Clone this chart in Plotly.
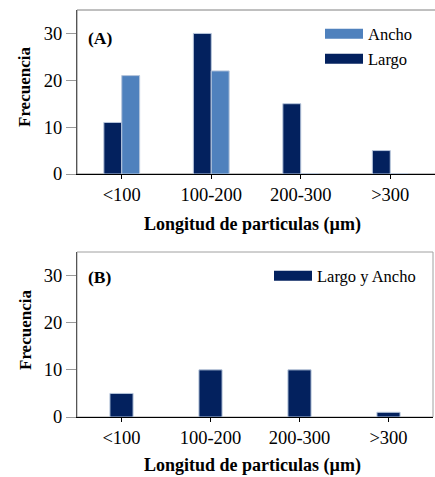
import plotly.graph_objects as go

categories = ["<100", "100-200", "200-300", ">300"]
largo_a = [11, 30, 15, 5]
ancho_a = [21, 22, 0, 0]
largo_ancho_b = [5, 10, 10, 1]
y_ticks = [0, 10, 20, 30]

NAVY = "#03215e"
BLUE = "#4f81bd"
EDGE = "#b7c6dc"
FONT = "Liberation Serif"

W, H = 435, 477
L, R, T, B = 77, 0, 10, 60
PH = H - T - B


def py(pix):
    return (H - B - pix) / PH


def px(pix):
    return (pix - L) / (W - L - R)


fig = go.Figure()
fig.add_trace(go.Bar(x=categories, y=largo_a, name="Largo", marker=dict(color=NAVY, line=dict(color=EDGE, width=1)),
                     xaxis="x", yaxis="y", showlegend=False))
fig.add_trace(go.Bar(x=categories, y=ancho_a, name="Ancho", marker=dict(color=BLUE, line=dict(color=EDGE, width=1)),
                     xaxis="x", yaxis="y", showlegend=False))
fig.add_trace(go.Bar(x=categories, y=largo_ancho_b, name="Largo y Ancho", width=0.26,
                     marker=dict(color=NAVY, line=dict(color=EDGE, width=1)),
                     xaxis="x2", yaxis="y2", showlegend=False))

# legend proxies
fig.add_trace(go.Scatter(x=[None], y=[None], mode="lines", name="Ancho", line=dict(color=BLUE, width=13),
                         xaxis="x", yaxis="y", legend="legend"))
fig.add_trace(go.Scatter(x=[None], y=[None], mode="lines", name="Largo", line=dict(color=NAVY, width=13),
                         xaxis="x", yaxis="y", legend="legend2"))
fig.add_trace(go.Scatter(x=[None], y=[None], mode="lines", name="Largo y Ancho", line=dict(color=NAVY, width=13),
                         xaxis="x2", yaxis="y2", legend="legend3"))

TICKSIZE = 18.5
xcommon = dict(type="category", range=[-0.5, 3.5], showline=True, linecolor="#000000", linewidth=1.3,
               ticks="outside", ticklen=4, tickcolor="#000000", tickfont=dict(family=FONT, size=TICKSIZE, color="#000"),
               showgrid=False, zeroline=False, fixedrange=True)
ycommon = dict(range=[0, 35], tickvals=y_ticks, showline=True, linecolor="#555555", linewidth=1,
               ticks="outside", ticklen=10, tickcolor="#9a9a9a", tickfont=dict(family=FONT, size=TICKSIZE, color="#000"),
               showgrid=False, zeroline=False, fixedrange=True)

legcommon = dict(font=dict(family=FONT, size=16.5, color="#000"), bgcolor="rgba(0,0,0,0)",
                 xanchor="left", yanchor="middle", itemwidth=38)

TITLE = dict(family=FONT, size=18, color="#000")
LABEL = dict(family=FONT, size=17.5, color="#000")

fig.update_layout(
    width=W, height=H,
    margin=dict(l=L, r=R, t=T, b=B),
    paper_bgcolor="white", plot_bgcolor="white",
    barmode="group", bargap=0.6, bargroupgap=0,
    xaxis=dict(domain=[0, 1], anchor="y", **xcommon),
    yaxis=dict(domain=[py(174), 1], anchor="x", **ycommon),
    xaxis2=dict(domain=[0, px(433)], anchor="y2", **xcommon),
    yaxis2=dict(domain=[0, py(252)], anchor="x2", **ycommon),
    legend=dict(x=px(320), y=py(34), **legcommon),
    legend2=dict(x=px(320), y=py(59), **legcommon),
    legend3=dict(x=px(269), y=py(276), **legcommon),
    shapes=[
        dict(type="rect", xref="x domain", yref="y domain", x0=0, x1=1.02, y0=0, y1=1,
             line=dict(color="#808080", width=1), layer="below"),
        dict(type="rect", xref="x2 domain", yref="y2 domain", x0=0, x1=1, y0=0, y1=1,
             line=dict(color="#a0a0a0", width=1), layer="below"),
    ],
    annotations=[
        dict(text="<b>(A)</b>", x=px(86), y=py(38), xref="paper", yref="paper", xanchor="left", yanchor="middle",
             showarrow=False, font=LABEL),
        dict(text="<b>(B)</b>", x=px(86), y=py(277), xref="paper", yref="paper", xanchor="left", yanchor="middle",
             showarrow=False, font=LABEL),
        dict(text="<b>Longitud de particulas (µm)</b>", x=px(252), y=py(224), xref="paper", yref="paper",
             xanchor="center", yanchor="middle", showarrow=False, font=TITLE),
        dict(text="<b>Longitud de particulas (µm)</b>", x=px(252), y=py(465), xref="paper", yref="paper",
             xanchor="center", yanchor="middle", showarrow=False, font=TITLE),
        dict(text="<b>Frecuencia</b>", x=px(25), y=py(87), xref="paper", yref="paper", textangle=-90,
             xanchor="center", yanchor="middle", showarrow=False, font=dict(family=FONT, size=17, color="#000")),
        dict(text="<b>Frecuencia</b>", x=px(25), y=py(330), xref="paper", yref="paper", textangle=-90,
             xanchor="center", yanchor="middle", showarrow=False, font=dict(family=FONT, size=17, color="#000")),
    ],
)

fig.write_html("out.html", config={"displayModeBar": False},
               post_script="document.body.style.margin='0';document.body.style.overflow='hidden';")
